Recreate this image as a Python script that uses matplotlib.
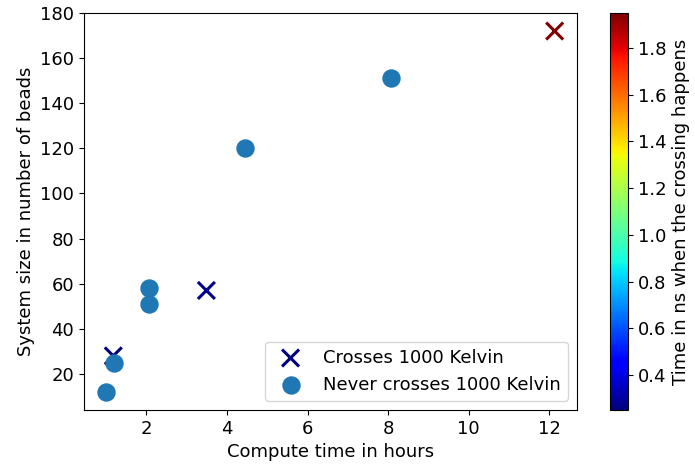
import numpy as np
import matplotlib
matplotlib.use("Agg")
import matplotlib.pyplot as plt

plt.rcParams['font.size'] = 13

# runs that cross 1000 K
cross_hours = [1.18, 3.49, 12.13]
cross_beads = [28, 57, 172]
cross_time_ns = [0.25, 0.27, 1.95]

# runs that never cross 1000 K
never_hours = [1.01, 1.20, 2.06, 2.07, 4.44, 8.06]
never_beads = [12, 25, 51, 58, 120, 151]

fig = plt.figure(figsize=(6.95, 4.71), dpi=100)
ax = fig.add_axes([0.1209, 0.1295, 0.7094, 0.8429])
cax = fig.add_axes([0.8777, 0.1295, 0.0259, 0.8429])

sc = ax.scatter(cross_hours, cross_beads, c=cross_time_ns, cmap='jet', marker='x',
                s=150, linewidths=2.2, label="Crosses 1000 Kelvin")
ax.scatter(never_hours, never_beads, color='tab:blue', marker='o', s=150,
           label="Never crosses 1000 Kelvin")

ax.set_xlabel("Compute time in hours")
ax.set_ylabel("System size in number of beads")
ax.legend(loc='lower right')

cbar = fig.colorbar(sc, cax=cax)
cbar.set_label("Time in ns when the crossing happens")

fig.savefig("out.png")
